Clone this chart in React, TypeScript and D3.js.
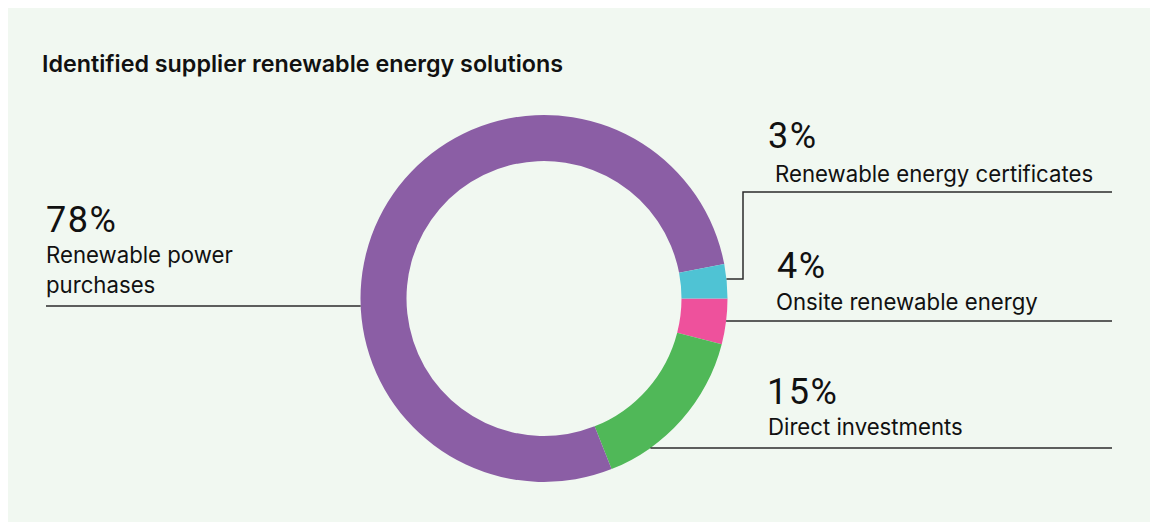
import React, { useEffect } from "react";
import * as d3 from "d3";

const categories = [
  "Onsite renewable energy",
  "Direct investments",
  "Renewable power purchases",
  "Renewable energy certificates",
];
const values = [4, 15, 78, 3];
const colors = ["#ee519c", "#50b858", "#8b5ea5", "#4fc3d4"];
const title = "Identified supplier renewable energy solutions";

const W = 1160;
const H = 514;
const CX = 536; // relative to svg (page x 544)
const CY = 290.5;
const R = 183.5;
const r = 137.5;
const FONT = "Inter, 'Noto Sans', sans-serif";
const PCT_FONT = "Roboto, Inter, sans-serif";

export default function App() {
  useEffect(() => {
    document.body.style.overflow = "hidden";
  }, []);

  const pie = d3
    .pie<number>()
    .sort(null)
    .value((d) => d)
    .startAngle(Math.PI / 2)
    .endAngle(Math.PI / 2 + 2 * Math.PI);
  const arcs = pie(values);
  const arc = d3.arc<d3.PieArcDatum<number>>().innerRadius(r).outerRadius(R);

  const edgeX = (y: number, side: 1 | -1) =>
    CX + side * Math.sqrt(Math.max(0, R * R - (y - CY) * (y - CY)));

  const ox = 8;
  const oy = 8;

  const labels = [
    {
      idx: 2,
      pct: { x: 46, y: 232 },
      lines: ["Renewable power", "purchases"],
      tx: 46,
      ty: 263,
      lh: 29.5,
      leader: [
        [46, 306],
        [edgeX(306 - oy, -1) + ox, 306],
      ],
    },
    {
      idx: 3,
      pct: { x: 768, y: 148 },
      lines: ["Renewable energy certificates"],
      tx: 775,
      ty: 182,
      lh: 0,
      leader: [
        [edgeX(279 - oy, 1) + ox, 279],
        [743, 279],
        [743, 192],
        [1112, 192],
      ],
    },
    {
      idx: 0,
      pct: { x: 777, y: 278 },
      lines: ["Onsite renewable energy"],
      tx: 776,
      ty: 310,
      lh: 0,
      leader: [
        [edgeX(321 - oy, 1) + ox, 321],
        [1112, 321],
      ],
    },
    {
      idx: 1,
      pct: { x: 767, y: 404 },
      lines: ["Direct investments"],
      tx: 768,
      ty: 435,
      lh: 0,
      leader: [
        [edgeX(448 - oy, 1) + ox, 448],
        [1112, 448],
      ],
    },
  ];

  const line = d3.line<number[]>();

  return (
    <svg
      width={W}
      height={H}
      style={{ display: "block", position: "fixed", left: 8, top: 8 }}
      fontFamily={FONT}
    >
      <rect x={0} y={0} width={W} height={H} fill="#f1f8f1" />
      <text
        x={42 - ox}
        y={72 - oy}
        fontSize={23.3}
        fontWeight={600}
        fill="#111"
      >
        {title}
      </text>
      <g transform={`translate(${CX},${CY})`}>
        {arcs.map((a, i) => (
          <path key={i} d={arc(a) || ""} fill={colors[i]} />
        ))}
      </g>
      {labels.map((l, i) => (
        <g key={i} transform={`translate(${-ox},${-oy})`}>
          <path
            d={line(l.leader as number[][]) || ""}
            fill="none"
            stroke="#2b2b2b"
            strokeWidth={1.5}
          />
          <text
            x={l.pct.x}
            y={l.pct.y}
            fontSize={36}
            letterSpacing={1.5}
            fontFamily={PCT_FONT}
            fill="#111"
          >
            {values[l.idx]}%
          </text>
          {l.lines.map((t, j) => (
            <text
              key={j}
              x={l.tx}
              y={l.ty + j * l.lh}
              fontSize={22.2}
              fill="#111"
            >
              {t}
            </text>
          ))}
        </g>
      ))}
    </svg>
  );
}
